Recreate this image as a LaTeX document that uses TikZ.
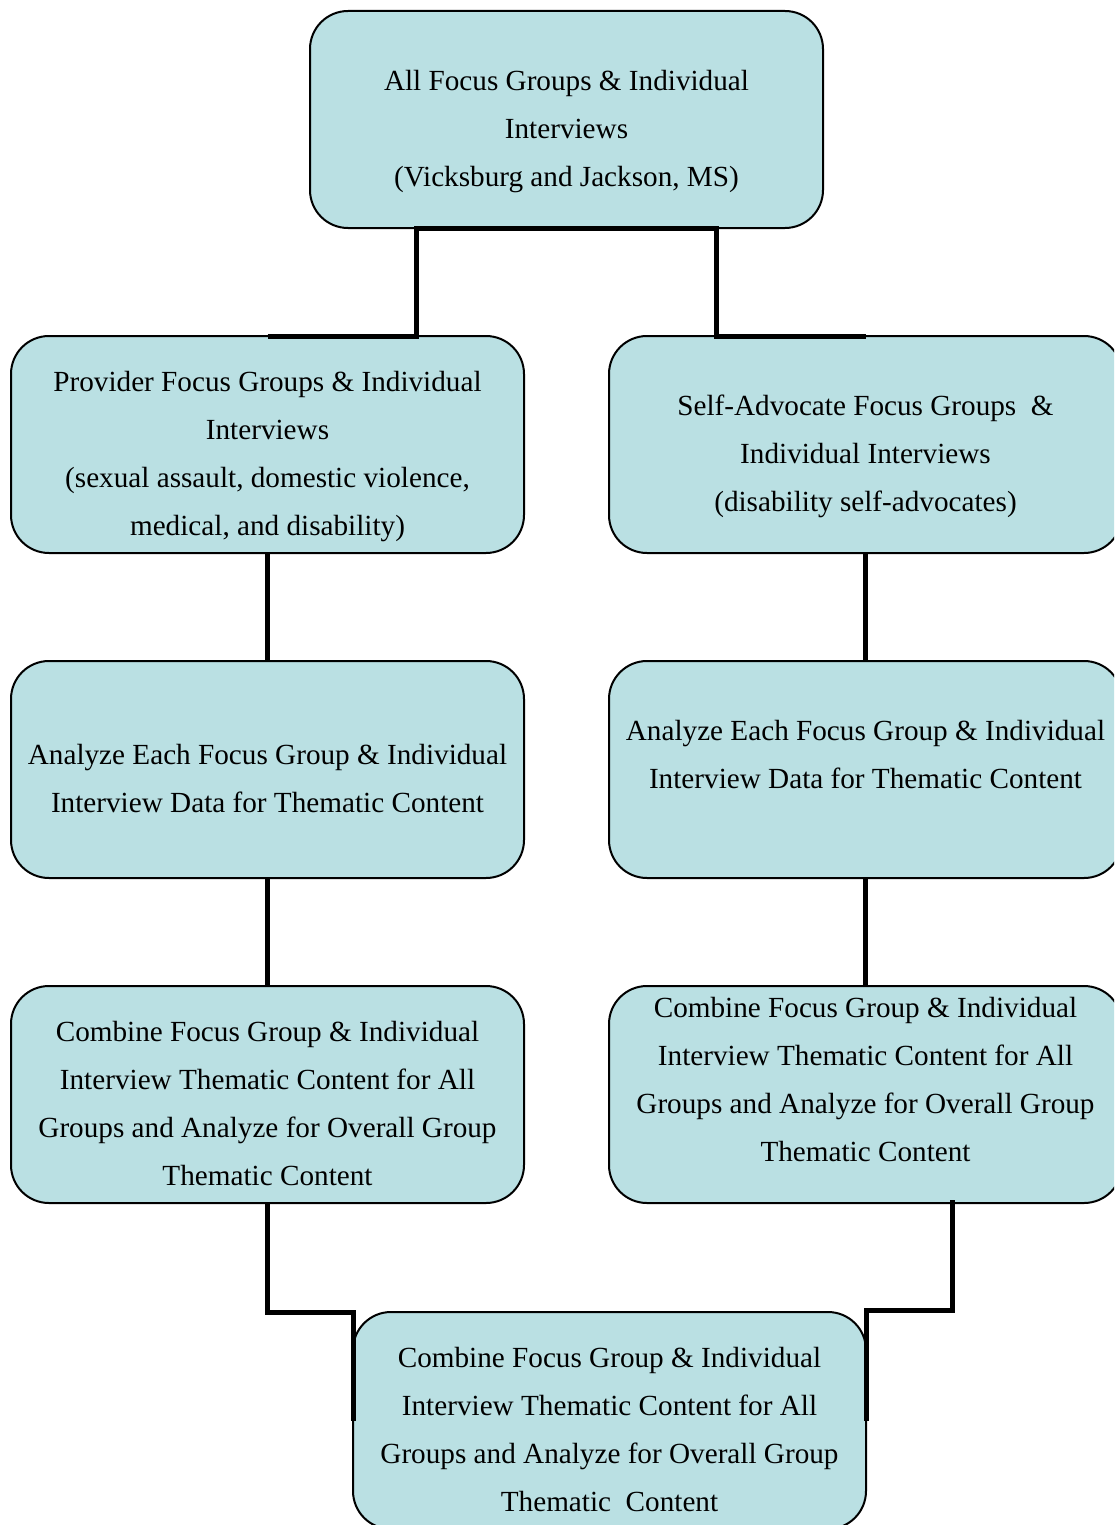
\documentclass[tikz,border=0pt]{standalone}
\usepackage{fontspec}
\setmainfont{Liberation Serif}
\definecolor{boxblue}{HTML}{BAE0E3}
% lines of a box, lowered a little as in the original layout
\newcommand{\boxtext}[2][-4.75pt]{\raisebox{#1}[\height][\depth]{\begin{tabular}{@{}c@{}}#2\end{tabular}}}

\begin{document}
\begin{tikzpicture}[x=0.5pt,y=-0.5pt,
  every node/.style={rectangle,rounded corners=19pt,fill=boxblue,draw=black,line width=1pt,
    minimum width=256.5pt,minimum height=108.5pt,outer sep=0pt,
    font=\fontsize{14.6pt}{24pt}\selectfont},
  link/.style={black,line width=2.5pt}]
  \useasboundingbox (0,0) rectangle (1114,1525);
  \clip (0,0) rectangle (1114,1525);
  \node (top) at (566.5,119.5) {\boxtext{All Focus Groups \& Individual\\Interviews\\(Vicksburg and Jackson, MS)}};
  \node (p1) at (267.5,444.5) {\boxtext{Provider Focus Groups \& Individual\\Interviews\\(sexual assault, domestic violence,\\medical, and disability)}};
  \node (s1) at (865.5,444.5) {\boxtext{Self-Advocate Focus Groups~~\&\\Individual Interviews\\(disability self-advocates)}};
  \node (p2) at (267.5,769.5) {\boxtext{Analyze Each Focus Group \& Individual\\Interview Data for Thematic Content}};
  \node (s2) at (865.5,769.5) {\boxtext[7.25pt]{Analyze Each Focus Group \& Individual\\Interview Data for Thematic Content}};
  \node (p3) at (267.5,1094.5) {\boxtext{Combine Focus Group \& Individual\\Interview Thematic Content for All\\Groups and Analyze for Overall Group\\Thematic Content}};
  \node (s3) at (865.5,1094.5) {\boxtext[7.25pt]{Combine Focus Group \& Individual\\Interview Thematic Content for All\\Groups and Analyze for Overall Group\\Thematic Content}};
  \node (fin) at (609.5,1420.5) {\boxtext{Combine Focus Group \& Individual\\Interview Thematic Content for All\\Groups and Analyze for Overall Group\\Thematic~~Content}};
  \draw[link] (p1.north) -| ([xshift=-75pt]top.south) -- ([xshift=75pt]top.south) |- (s1.north);
  \foreach \from/\to in {p1/p2,p2/p3,s1/s2,s2/s3}
    \draw[link] (\from) -- (\to);
  \draw[link] (p3.south) |- (fin.north west) -- (fin.west);
  \draw[link] ([xshift=43.25pt,yshift=1.5pt]s3.south) |- ([yshift=1pt]fin.north east) -- (fin.east);
\end{tikzpicture}
\end{document}
